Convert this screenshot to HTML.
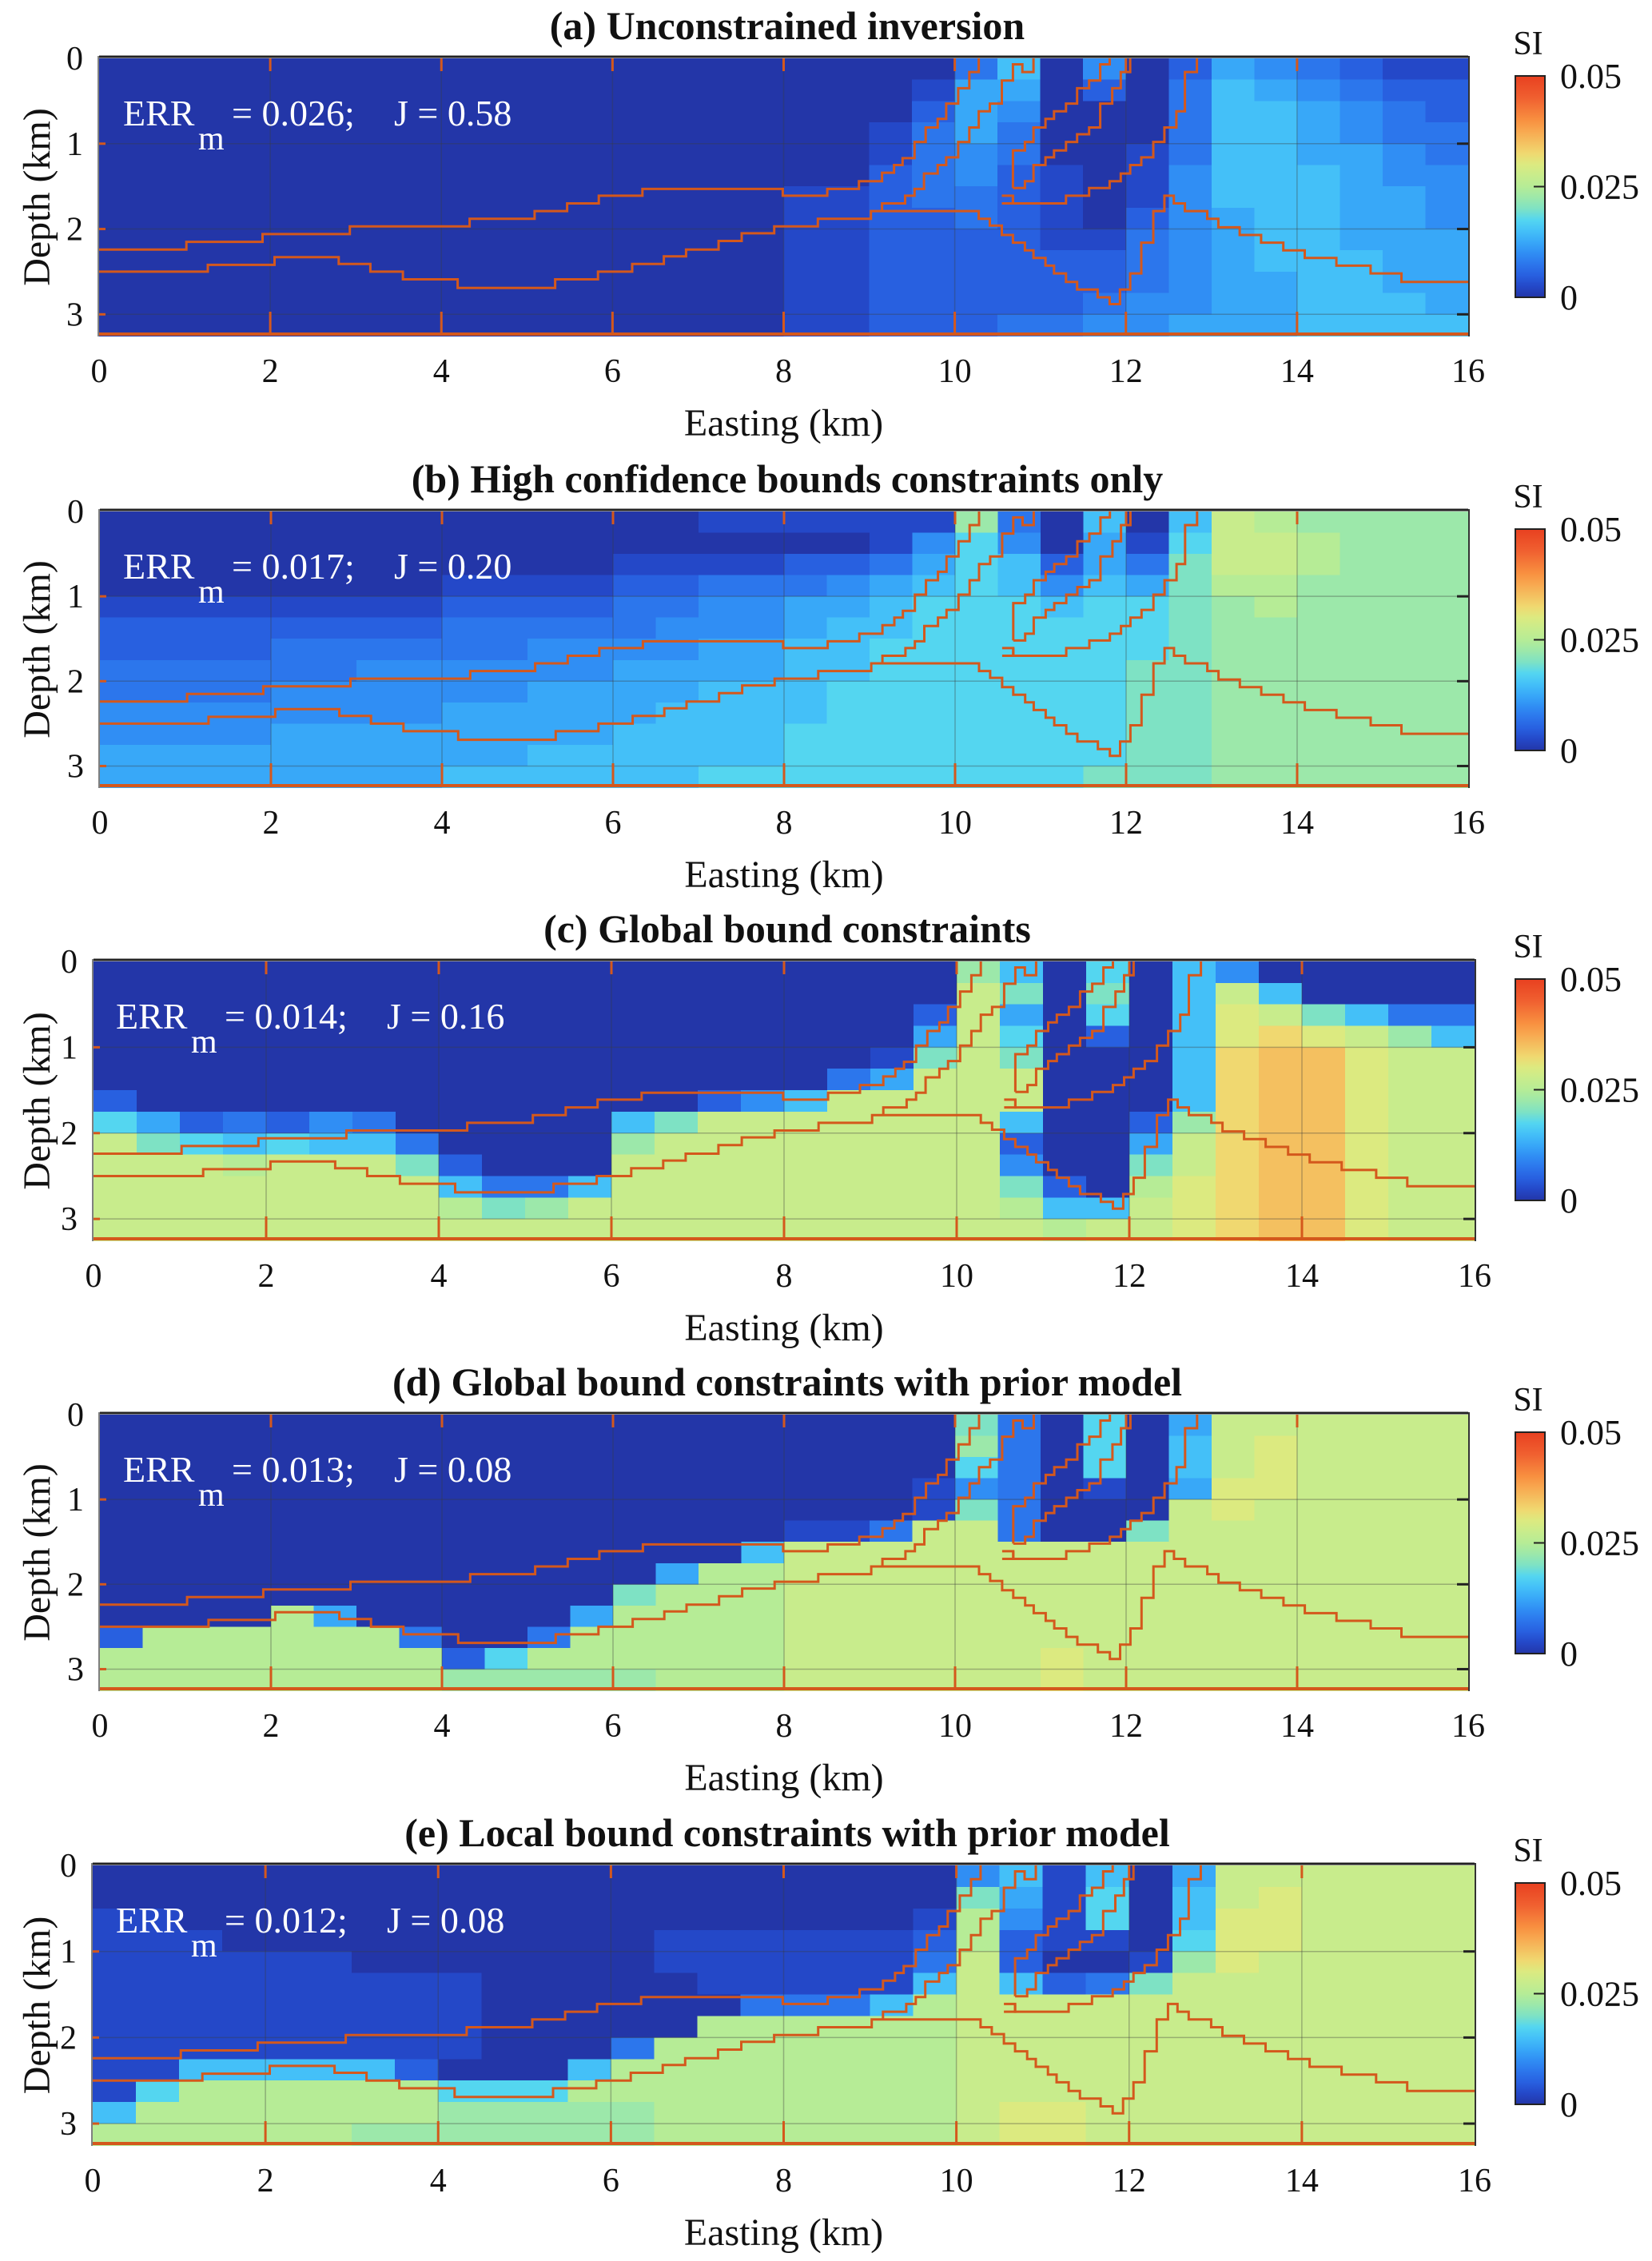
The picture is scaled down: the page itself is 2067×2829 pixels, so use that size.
<!DOCTYPE html>
<html><head><meta charset="utf-8"><style>
html,body{margin:0;padding:0;background:#fff}
svg{display:block}
svg text{font-family:"Liberation Serif","DejaVu Serif",serif !important}
</style></head><body>
<svg id="fig" xmlns="http://www.w3.org/2000/svg" width="2067" height="2829" viewBox="0 0 2067 2829" font-family="Liberation Serif, DejaVu Serif, serif">
<rect x="0" y="0" width="2067" height="2829" fill="#fff"/>
<defs>
<linearGradient id="cbgrad" x1="0" y1="1" x2="0" y2="0"></linearGradient>
</defs>
</svg>
<script>
// ---------- data ----------
const xTicks = [0,2,4,6,8,10,12,14,16];
const yTicks = [0,1,2,3];
const cbTicks = [0,0.025,0.05];
const cbTickLabels = ["0","0.025","0.05"];
const titles = ["(a) Unconstrained inversion","(b) High confidence bounds constraints only","(c) Global bound constraints","(d) Global bound constraints with prior model","(e) Local bound constraints with prior model"];
const errValues = ["0.026","0.017","0.014","0.013","0.012"];
const jValues = ["0.58","0.20","0.16","0.08","0.08"];
// heatmap cells: 32 columns (0.5 km) x 13 rows (0.25 km); char = base-36 level, SI = level*0.0025
const heatA = [
"0000 0000 0000 0000 0000 3604 0254 3211",
"0000 0000 0000 0000 0001 5502 0365 4322",
"0000 0000 0000 0000 0002 5400 0366 5432",
"0000 0000 0000 0000 0013 5300 0366 5433",
"0000 0000 0000 0000 0013 4300 1366 5543",
"0000 0000 0000 0000 0023 4210 1466 6544",
"0000 0000 0000 0000 1123 3210 1466 6554",
"0000 0000 0000 0000 1122 3210 2456 6554",
"0000 0000 0000 0000 1122 2211 3456 6555",
"0000 0000 0000 0000 1122 2222 3456 6655",
"0000 0000 0000 0000 1122 2222 3455 6655",
"0000 0000 0000 0000 1122 2223 4455 6665",
"0000 0000 0000 0000 1122 2334 4555 6666"];
const heatB = [
"0000 0000 0000 0011 1111 9306 06BA 9999",
"0000 0000 0000 0000 0014 7405 17BB A999",
"0000 0000 0000 1111 2235 7625 38BB A999",
"0000 0000 1111 2233 3456 7646 58AA 9999",
"1111 1111 2222 3344 5567 7767 789A 9999",
"2222 2222 3333 3444 5667 7777 7899 9999",
"2222 3333 3344 4455 6677 7777 7899 9999",
"3333 3344 4444 5555 6677 7777 8899 9999",
"3333 4444 4455 5566 6777 7777 8899 9999",
"4444 4444 5555 5666 6777 7777 8899 9999",
"4444 5555 5555 6666 7777 7777 8899 9999",
"5555 5555 5566 6666 7777 7777 8899 9999",
"5555 5555 6666 6677 7777 7778 8899 9999"];
const heatC = [
"0000 0000 0000 0000 0000 9607 0640 0000",
"0000 0000 0000 0000 0000 B808 06B6 0000",
"0000 0000 0000 0000 0002 B507 06CB 8633",
"0000 0000 0000 0000 0005 B702 06CD CB96",
"0000 0000 0000 0000 0018 B800 06DE ECBB",
"0000 0000 0000 0000 035B BB00 06DE ECBB",
"2000 0000 0000 0024 6BBB BB00 06DE ECBB",
"7523 2430 0000 68BB BBBB B600 29DE ECBB",
"B876 7663 0000 9BBB BBBB B200 5BDE ECBB",
"BBBA BBB8 2000 BBBB BBBB B400 8BDE ECBB",
"BBBB BBBB 6336 BBBB BBBB B820 ACDE ECBB",
"BBBB BBBB A89B BBBB BBBB BA66 BCDE ECBB",
"BBBB BBBB BBBB BBBB BBBB BBAB BCDE ECBB"];
const heatD = [
"0000 0000 0000 0000 0000 8307 05BB BBBB",
"0000 0000 0000 0000 0000 9307 06BC BBBB",
"0000 0000 0000 0000 0000 7307 06BC BBBB",
"0000 0000 0000 0000 0001 4301 05CC BBBB",
"0000 0000 0000 0000 0001 8300 0BCB BBBB",
"0000 0000 0000 0000 113B B300 8BBB BBBB",
"0000 0000 0000 0006 BBBB BBBB BBBB BBBB",
"0000 0000 0000 05AA BBBB BBBB BBBB BBBB",
"0000 0000 0000 8AAA BBBB BBBB BBBB BBBB",
"0000 A500 0005 AAAA BBBB BBBB BBBB BBBB",
"2AAA AAA3 003A AAAA BBBB BBBB BBBB BBBB",
"AAAA AAAA 27AA AAAA BBBB BBCB BBBB BBBB",
"AAAA AAAA 9999 9AAA BBBB BBCB BBBB BBBB"];
const heatE = [
"0000 0000 0000 0000 0000 4616 05BB BBBB",
"0000 0000 0000 0000 0000 8517 06BC BBBB",
"1100 0000 0000 0000 0001 A417 06CC BBBB",
"1110 0000 0000 0111 1112 A211 07CC BBBB",
"1111 1100 0000 0111 1113 B200 19CB BBBB",
"1111 1111 1000 0011 1116 B623 8BBB BBBB",
"1111 1111 1000 0003 336A BBBB BBBB BBBB",
"1111 1111 1000 00AA AAAA BBBB BBBB BBBB",
"1111 1111 1000 3AAA AAAA BBBB BBBB BBBB",
"1166 6662 0006 AAAA AAAA BBBB BBBB BBBB",
"17AA AAAA 777A AAAA AAAA BBBB BBBB BBBB",
"6AAA AAAA 9999 9AAA AAAA BCCB BBBB BBBB",
"AAAA AA99 9999 9AAA AAAA BCCB BBBB BBBB"];
// contours: start x (km), then [depth, xEnd] horizontal steps, final depth
const c1Start = 0, c1End = 0;
const c1Steps = [[2.24,1.02],[2.15,1.91],[2.06,2.93],[1.97,4.33],[1.88,5.09],[1.79,5.47],[1.70,5.84],[1.61,6.35],[1.53,7.99],[1.61,8.51],[1.53,8.88],[1.44,9.15],[1.34,9.29],[1.25,9.39],[1.17,9.53],[0.98,9.66],[0.81,9.80],[0.71,9.90],[0.53,10.04],[0.35,10.17],[0.16,10.28]];
const c2Start = 0, c2End = 2.62;
const c2Steps = [[2.50,1.27],[2.42,2.05],[2.33,2.80],[2.41,3.17],[2.50,3.55],[2.59,4.19],[2.69,5.33],[2.59,5.83],[2.50,6.23],[2.41,6.60],[2.32,6.86],[2.24,7.24],[2.14,7.51],[2.05,7.89],[1.97,8.40],[1.88,9.02],[1.79,10.28],[1.88,10.41],[1.96,10.55],[2.07,10.68],[2.16,10.82],[2.25,10.92],[2.34,11.06],[2.43,11.16],[2.52,11.30],[2.62,11.43],[2.71,11.67],[2.80,11.81],[2.88,11.93],[2.71,12.05],[2.52,12.18],[2.16,12.32],[1.79,12.45],[1.61,12.56],[1.70,12.69],[1.79,12.95],[1.88,13.08],[1.98,13.33],[2.07,13.58],[2.16,13.84],[2.25,14.09],[2.34,14.46],[2.43,14.86],[2.52,15.22],[2.62,16]];
const c3Start = 9.15, c3End = 0;
const c3Steps = [[1.79,9.15],[1.70,9.42],[1.61,9.53],[1.53,9.64],[1.35,9.80],[1.25,9.90],[1.16,10.04],[0.98,10.17],[0.81,10.28],[0.62,10.41],[0.53,10.55],[0.26,10.68],[0.07,10.79],[0.16,10.92]];
const c4Start = 10.68, c4End = 0;
const c4Steps = [[1.52,10.68],[1.08,10.82],[0.98,10.92],[0.81,11.06],[0.71,11.16],[0.62,11.30],[0.53,11.43],[0.35,11.57],[0.26,11.70],[0.07,11.81]];
const c5Start = 10.68, c5End = 0;
const c5Steps = [[1.52,10.82],[1.44,10.92],[1.25,11.06],[1.16,11.16],[1.08,11.30],[0.98,11.43],[0.89,11.57],[0.81,11.70],[0.53,11.84],[0.35,11.94],[0.16,12.05]];
const c6Start = 10.55, c6End = 0;
const c6Steps = [[1.61,10.68],[1.70,11.30],[1.61,11.57],[1.52,11.81],[1.44,11.94],[1.35,12.05],[1.25,12.18],[1.16,12.32],[0.98,12.45],[0.81,12.59],[0.62,12.69],[0.16,12.83]];
const c7Start = 10.55, c7End = 1.61;
const c7Steps = [[1.70,10.68]];
// ---------- colours ----------
const palette = ["#2336a8","#2448c8","#2860e0","#2c76ec","#308ef4","#38a8f8","#44c0f8","#54d6f0","#7ee2c4","#9ce8aa","#b6ec96","#c8ec8c","#dcea80","#f0d870","#f4c060","#f8a850","#f89040","#f47838","#f06030","#ec5028","#e84020"];
function colorOf(v){let i=Math.round(v/0.0025);i=Math.max(0,Math.min(20,i));return palette[i];}

const NS="http://www.w3.org/2000/svg";
const FONT='"Liberation Serif", "DejaVu Serif", serif';
const svg=document.getElementById('fig');
function mk(tag,attrs,parent){const e=document.createElementNS(NS,tag);for(const k in attrs)e.setAttribute(k,attrs[k]);if(tag==='text'){e.setAttribute('font-family',FONT);e.style.fontFamily=FONT;}(parent||svg).appendChild(e);return e;}

const grad=document.getElementById('cbgrad');
palette.forEach((c,i)=>{mk('stop',{offset:(i/20).toFixed(3),'stop-color':c},grad);});

const panels=[
 {top:73,bottom:420,left:124,right:1837,errX:154,eqX:290,jX:493},
 {top:640,bottom:985,left:125,right:1837,errX:154,eqX:290,jX:493},
 {top:1203,bottom:1552,left:117,right:1845,errX:145,eqX:281,jX:484},
 {top:1770,bottom:2115,left:125,right:1837,errX:154,eqX:290,jX:493},
 {top:2334,bottom:2684,left:116,right:1845,errX:145,eqX:281,jX:484}];
const heats=[heatA,heatB,heatC,heatD,heatE];
const contours=[[c1Start,c1Steps,c1End],[c2Start,c2Steps,c2End],[c3Start,c3Steps,c3End],[c4Start,c4Steps,c4End],[c5Start,c5Steps,c5End],[c6Start,c6Steps,c6End],[c7Start,c7Steps,c7End]];
const ORANGE="#d4581c";
const letters="abcde";

panels.forEach((p,pi)=>{
 const xs=km=>p.left+km/16*(p.right-p.left);
 const ys=d=>p.top+d/3.25*(p.bottom-p.top);
 const g=mk('g',{});
 
 
 // heatmap
 const hg=mk('g',{'shape-rendering':'crispEdges'},g);
 
 
 heats[pi].forEach((row,r)=>{
  const s=row.replace(/ /g,'');
  for(let c=0;c<32;c++){
   const lvl=parseInt(s[c]||'0',36);
   const v=lvl*0.0025;
   const x0=xs(c*0.5),x1=xs(c*0.5+0.5),y0=ys(r*0.25),y1=Math.min(ys(r*0.25+0.25),p.bottom);
   const rc=mk('rect',{x:x0.toFixed(1),y:y0.toFixed(1),width:(x1-x0+0.8).toFixed(1),height:(y1-y0+0.8).toFixed(1),fill:colorOf(v)},hg);
   
   
  }
 });
 // grid
 xTicks.slice(1,-1).forEach(t=>{
  const l=mk('line',{x1:xs(t),x2:xs(t),y1:p.top,y2:p.bottom,stroke:'rgba(60,60,60,0.35)','stroke-width':1.5},g);
  
  
 });
 yTicks.slice(1).forEach(t=>{
  const l=mk('line',{x1:p.left,x2:p.right,y1:ys(t),y2:ys(t),stroke:'rgba(60,60,60,0.35)','stroke-width':1.5},g);
  
  
 });
 // contours
 contours.forEach((ct,ci)=>{
  const [x0,steps,dEnd]=ct;
  let d='M'+xs(x0).toFixed(1)+','+ys(steps[0][0]).toFixed(1);
  steps.forEach((st,i)=>{
   d+=' H'+xs(st[1]).toFixed(1);
   const nd=(i<steps.length-1)?steps[i+1][0]:dEnd;
   d+=' V'+ys(nd).toFixed(1);
  });
  const path=mk('path',{d:d,fill:'none',stroke:ORANGE,'stroke-width':3},g);
  
  
 });
 // bottom orange line
 const bl=mk('line',{x1:p.left,x2:p.right,y1:p.bottom-2,y2:p.bottom-2,stroke:ORANGE,'stroke-width':4},g);
 
 
 // orange ticks
 xTicks.slice(1,-1).forEach(t=>{
  const a=mk('line',{x1:xs(t),x2:xs(t),y1:p.top,y2:p.top+16,stroke:ORANGE,'stroke-width':3},g);
  
  
  const b=mk('line',{x1:xs(t),x2:xs(t),y1:p.bottom-30,y2:p.bottom,stroke:ORANGE,'stroke-width':3},g);
  
  
 });
 yTicks.slice(1).forEach(t=>{
  const a=mk('line',{x1:p.right-14,x2:p.right,y1:ys(t),y2:ys(t),stroke:'#222','stroke-width':3},g);
  
  
  const b=mk('line',{x1:p.left,x2:p.left+8,y1:ys(t),y2:ys(t),stroke:ORANGE,'stroke-width':3},g);
  
  
 });
 // frame
 const tb=mk('line',{x1:p.left,x2:p.right,y1:p.top-2,y2:p.top-2,stroke:'#222','stroke-width':3},g);
 
 
 const rb=mk('line',{x1:p.right+1,x2:p.right+1,y1:p.top-3,y2:p.bottom+1,stroke:'#333','stroke-width':2},g);
 
 
 const lb=mk('line',{x1:p.left-1,x2:p.left-1,y1:p.top-3,y2:p.bottom+1,stroke:'#555','stroke-width':1.5},g);
 
 
 // tick labels
 xTicks.forEach(t=>{
  const tx=mk('text',{x:xs(t),y:p.bottom+58,'font-size':42,'text-anchor':'middle',fill:'#111'},g);
  tx.textContent=String(t);
  
  
 });
 yTicks.forEach(t=>{
  const ty=mk('text',{x:p.left-20,y:ys(t)+14,'font-size':42,'text-anchor':'end',fill:'#111'},g);
  ty.textContent=String(t);
  
  
 });
 // axis titles
 const xl=mk('text',{x:(p.left+p.right)/2,y:p.bottom+125,'font-size':48,'text-anchor':'middle',fill:'#111'},g);
 xl.textContent='Easting (km)';
 
 
 const cy=(p.top+p.bottom)/2;
 const yl=mk('text',{x:0,y:0,'font-size':48,'text-anchor':'middle',fill:'#111',transform:'translate(62,'+cy+') rotate(-90)'},g);
 yl.textContent='Depth (km)';
 
 
 const tt=mk('text',{x:985,y:p.top-24,'font-size':50,'font-weight':'bold','text-anchor':'middle',fill:'#111'},g);
 tt.textContent=titles[pi];
 
 
 // annotation
 const e1=mk('text',{x:p.errX,y:p.top+84,'font-size':46,fill:'#fff'},g);
 e1.textContent='ERR';
 
 
 const e2=mk('text',{x:p.errX+94,y:p.top+114,'font-size':42,fill:'#fff'},g);
 e2.textContent='m';
 
 
 const e3=mk('text',{x:p.eqX,y:p.top+84,'font-size':46,fill:'#fff'},g);
 e3.textContent='= '+errValues[pi]+';';
 
 
 const e4=mk('text',{x:p.jX,y:p.top+84,'font-size':46,fill:'#fff'},g);
 e4.textContent='J = '+jValues[pi];
 
 
 // colorbar
 const cbTop=p.top+22,cbBot=p.top+299,cbL=1896,cbR=1933;
 const cs=v=>cbBot-v/0.05*(cbBot-cbTop);
 const cb=mk('rect',{x:cbL,y:cbTop,width:cbR-cbL,height:cbBot-cbTop,fill:'url(#cbgrad)',stroke:'#222','stroke-width':2},g);
 
 
 cbTicks.forEach((t,i)=>{
  const tk=mk('line',{x1:cbR-14,x2:cbR,y1:cs(t),y2:cs(t),stroke:'#222','stroke-width':2},g);
  
  
  const lb2=mk('text',{x:1952,y:cs(t)+15,'font-size':44,fill:'#111'},g);
  lb2.textContent=cbTickLabels[i];
  
  
 });
 const si=mk('text',{x:1912,y:p.top-5,'font-size':42,'text-anchor':'middle',fill:'#111'},g);
 si.textContent='SI';
 
 
});
</script>
</body></html>
